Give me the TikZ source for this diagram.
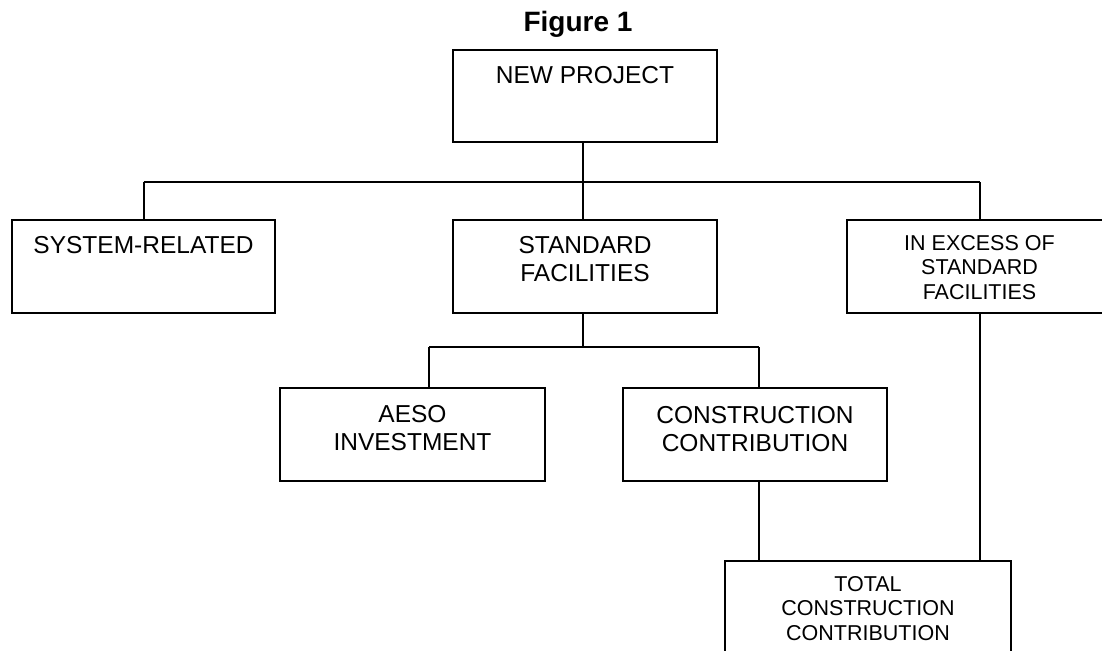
\documentclass[tikz,border=0pt]{standalone}
\usepackage{fontspec}
\setmainfont{Liberation Sans}
\newcommand{\bigtxt}{\fontsize{24.5}{28}\selectfont}
\newcommand{\smalltxt}{\fontsize{21.5}{24.5}\selectfont}
\newcommand{\boxtext}[4]{\parbox[c][#1pt][t]{#2pt}{\centering\vspace*{#3pt}#4\par}}
\tikzset{
  box/.style={draw=black, line width=2.3pt, inner sep=0pt, fill=white},
  conn/.style={draw=black, line width=2pt},
}
\begin{document}
\begin{tikzpicture}[x=1pt,y=-1pt]
\useasboundingbox (0,0) rectangle (1102,650);
\clip (0,0) rectangle (1102,650);
\fill[white] (0,0) rectangle (1102,650);

\node[anchor=base, font=\fontsize{28}{32}\selectfont\bfseries] (title) at (578,32) {Figure 1};

\node[box] (np) at (585,96) {\boxtext{92}{264}{16}{\bigtxt NEW PROJECT}};
\node[box] (sr) at (143.5,266.5) {\boxtext{93}{263}{16}{\bigtxt SYSTEM-RELATED}};
\node[box] (sf) at (585,266.5) {\boxtext{93}{264}{16}{\bigtxt STANDARD\\FACILITIES}};
\node[box] (ie) at (979.5,266.5) {\boxtext{93}{265}{15}{\smalltxt IN EXCESS OF\\STANDARD\\FACILITIES}};
\node[box] (ae) at (412.5,434.5) {\boxtext{93}{265}{17}{\bigtxt AESO\\INVESTMENT}};
\node[box] (cc) at (755,434.5) {\boxtext{93}{264}{18}{\bigtxt CONSTRUCTION\\CONTRIBUTION}};
\node[box] (tc) at (868,611) {\boxtext{100}{286}{15}{\smalltxt TOTAL\\CONSTRUCTION\\CONTRIBUTION}};

\coordinate (bus1) at (0,182);
\coordinate (bus2) at (0,347);
\coordinate (npx) at (583,0);
\coordinate (aex) at (429,0);
\coordinate (ccx) at (759,0);

\draw[conn] (npx |- np.south) -- (npx |- bus1);
\draw[conn] (sr.north |- bus1) -- (ie.north |- bus1);
\draw[conn] (sr.north |- bus1) -- (sr.north);
\draw[conn] (npx |- bus1) -- (npx |- sf.north);
\draw[conn] (ie.north |- bus1) -- (ie.north);

\draw[conn] (npx |- sf.south) -- (npx |- bus2);
\draw[conn] (aex |- bus2) -- (ccx |- bus2);
\draw[conn] (aex |- bus2) -- (aex |- ae.north);
\draw[conn] (ccx |- bus2) -- (ccx |- cc.north);

\draw[conn] (ccx |- cc.south) -- (ccx |- tc.north);
\draw[conn] (ie.south) -- (ie.south |- tc.north);
\end{tikzpicture}
\end{document}
